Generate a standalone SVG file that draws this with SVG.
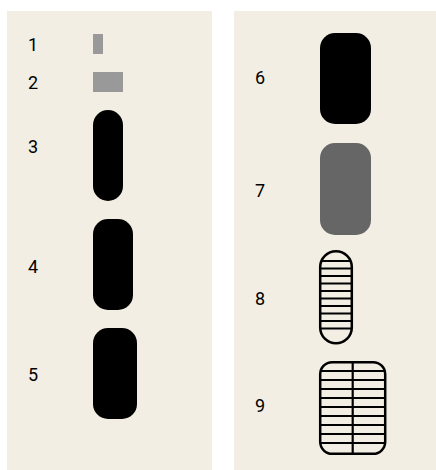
<svg xmlns="http://www.w3.org/2000/svg" width="436" height="470" viewBox="0 0 436 470">
<style>
.panel{fill:#f2eee4}
.lbl{font-family:Roboto,"Liberation Sans",sans-serif;font-size:18px;fill:#000}
.blk{fill:#000}
.g1{fill:#999}
.g2{fill:#666}
.out{fill:none;stroke:#000;stroke-width:2.5}
.hl{stroke:#000;stroke-width:2.2}
</style>
<defs>
<clipPath id="c8"><rect x="320.2" y="251.2" width="31.6" height="92" rx="15.8"/></clipPath>
<clipPath id="c9"><rect x="320.2" y="362.2" width="65" height="91.6" rx="12"/></clipPath>
</defs>
<rect class="panel" x="7" y="11" width="205" height="459"/>
<rect class="panel" x="234" y="11" width="205" height="459"/>
<g id="n1"><text class="lbl" x="28" y="51">1</text><rect class="g1" x="93" y="34" width="10" height="20"/></g>
<g id="n2"><text class="lbl" x="28" y="88.5">2</text><rect class="g1" x="93" y="72" width="30" height="20"/></g>
<g id="n3"><text class="lbl" x="28" y="153">3</text><rect class="blk" x="93" y="110" width="30" height="91" rx="15"/></g>
<g id="n4"><text class="lbl" x="28" y="273">4</text><rect class="blk" x="93" y="219" width="40" height="91" rx="15"/></g>
<g id="n5"><text class="lbl" x="28" y="381">5</text><rect class="blk" x="93" y="328" width="44" height="91" rx="15"/></g>
<g id="n6"><text class="lbl" x="255" y="84">6</text><rect class="blk" x="320" y="33" width="51" height="91" rx="15"/></g>
<g id="n7"><text class="lbl" x="255" y="197">7</text><rect class="g2" x="320" y="143" width="51" height="92" rx="15"/></g>
<g id="n8"><text class="lbl" x="255" y="305">8</text>
<g clip-path="url(#c8)" class="hl">
<line x1="318" y1="261" x2="354" y2="261"/><line x1="318" y1="268.5" x2="354" y2="268.5"/><line x1="318" y1="276" x2="354" y2="276"/><line x1="318" y1="283.5" x2="354" y2="283.5"/><line x1="318" y1="291" x2="354" y2="291"/><line x1="318" y1="298.5" x2="354" y2="298.5"/><line x1="318" y1="306" x2="354" y2="306"/><line x1="318" y1="313.5" x2="354" y2="313.5"/><line x1="318" y1="321" x2="354" y2="321"/><line x1="318" y1="328.5" x2="354" y2="328.5"/>
</g>
<rect class="out" x="320.2" y="251.2" width="31.6" height="92" rx="15.8"/></g>
<g id="n9"><text class="lbl" x="255" y="412">9</text>
<g clip-path="url(#c9)" class="hl">
<line x1="318" y1="371" x2="388" y2="371"/><line x1="318" y1="380" x2="388" y2="380"/><line x1="318" y1="389" x2="388" y2="389"/><line x1="318" y1="398" x2="388" y2="398"/><line x1="318" y1="407" x2="388" y2="407"/><line x1="318" y1="416" x2="388" y2="416"/><line x1="318" y1="425" x2="388" y2="425"/><line x1="318" y1="434" x2="388" y2="434"/><line x1="318" y1="443" x2="388" y2="443"/>
<line x1="352.7" y1="360" x2="352.7" y2="456"/>
</g>
<rect class="out" x="320.2" y="362.2" width="65" height="91.6" rx="12"/></g>
<g id="connectors"/>
</svg>
